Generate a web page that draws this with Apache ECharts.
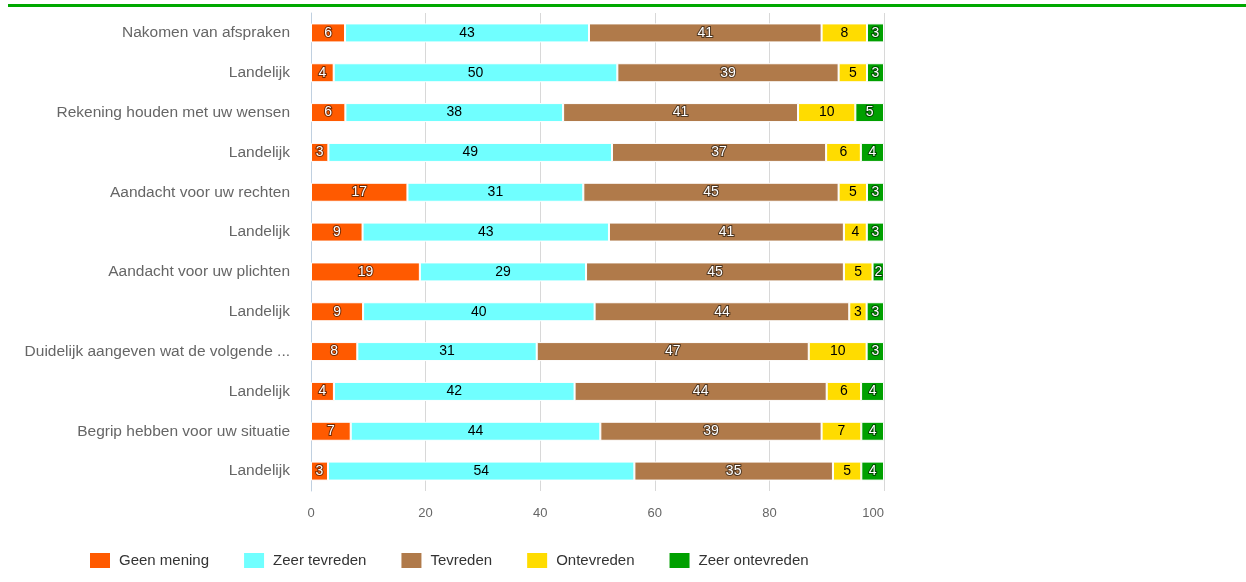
<!DOCTYPE html>
<html>
<head>
<meta charset="utf-8">
<title>Tevredenheid</title>
<script src="https://cdn.jsdelivr.net/npm/echarts@6/dist/echarts.min.js"></script>
<style>
  html, body { margin: 0; padding: 0; background: #fff; }
  #chart { width: 1246px; height: 582px; }
</style>
</head>
<body>
<div id="chart"></div>
<script>
// categories, top to bottom
var categories = [
  'Nakomen van afspraken', 'Landelijk',
  'Rekening houden met uw wensen', 'Landelijk',
  'Aandacht voor uw rechten', 'Landelijk',
  'Aandacht voor uw plichten', 'Landelijk',
  'Duidelijk aangeven wat de volgende ...', 'Landelijk',
  'Begrip hebben voor uw situatie', 'Landelijk'
]
var seriesNames = ['Geen mening', 'Zeer tevreden', 'Tevreden', 'Ontevreden', 'Zeer ontevreden']
var colors = ['#FF5A00', '#70FFFF', '#B07A4A', '#FFDC00', '#00A000']

var geenMening = [6, 4, 6, 3, 17, 9, 19, 9, 8, 4, 7, 3]
var zeerTevreden = [43, 50, 38, 49, 31, 43, 29, 40, 31, 42, 44, 54]
var tevreden = [41, 39, 41, 37, 45, 41, 45, 44, 47, 44, 39, 35]
var ontevreden = [8, 5, 10, 6, 5, 4, 5, 3, 10, 6, 7, 5]
var zeerOntevreden = [3, 3, 5, 4, 3, 3, 2, 3, 3, 4, 4, 4]

var xTicks = [0, 20, 40, 60, 80, 100]

var values = [geenMening, zeerTevreden, tevreden, ontevreden, zeerOntevreden]
// percent stacking: each row scaled to 100
var totals = categories.map(function (c, i) {
  return values.reduce(function (s, arr) { return s + arr[i] }, 0)
})
var darkLabel = [false, true, false, true, false]

var series = values.map(function (arr, k) {
  return {
    name: seriesNames[k],
    type: 'bar',
    stack: 'total',
    barWidth: 19,
    itemStyle: { color: colors[k], borderColor: '#fff', borderWidth: 1 },
    label: {
      show: true,
      position: 'inside',
      fontFamily: 'Liberation Sans',
      fontSize: 14,
      color: darkLabel[k] ? '#000' : '#fff',
      textBorderColor: darkLabel[k] ? 'transparent' : 'rgba(0,0,0,0.55)',
      textBorderWidth: darkLabel[k] ? 0 : 2,
      formatter: function (p) { return p.data.raw }
    },
    data: arr.map(function (v, i) {
      return { value: v / totals[i] * 100, raw: v }
    })
  }
})

var myChart = echarts.init(document.getElementById('chart'))
var option = {
  color: colors,
  animation: false,
  textStyle: { fontFamily: 'Liberation Sans' },
  graphic: [{
    type: 'rect',
    shape: { x: 8, y: 4, width: 1238, height: 3 },
    style: { fill: '#00A800' }
  }],
  grid: { left: 311, right: 362, top: 13, bottom: 91, containLabel: false },
  legend: {
    left: 88,
    top: 551,
    padding: 0,
    itemWidth: 22,
    itemHeight: 17,
    itemGap: 33,
    icon: 'rect',
    textStyle: { fontSize: 15, color: '#333', fontFamily: 'Liberation Sans', padding: [0, 0, 0, 3] },
    data: seriesNames
  },
  xAxis: {
    type: 'value',
    min: xTicks[0],
    max: xTicks[xTicks.length - 1],
    interval: 20,
    axisLine: { show: false },
    axisTick: { show: false },
    splitLine: { lineStyle: { color: '#D8D8D8' } },
    axisLabel: { color: '#666', fontSize: 13, margin: 16, alignMaxLabel: 'right' }
  },
  yAxis: {
    type: 'category',
    inverse: true,
    data: categories,
    axisLine: { lineStyle: { color: '#C0D0E0' } },
    axisTick: { length: 13, lineStyle: { color: '#C0D0E0' } },
    axisLabel: { color: '#666', fontSize: 15.5, margin: 21 }
  },
  series: series
}
option && myChart.setOption(option)
</script>
</body>
</html>
